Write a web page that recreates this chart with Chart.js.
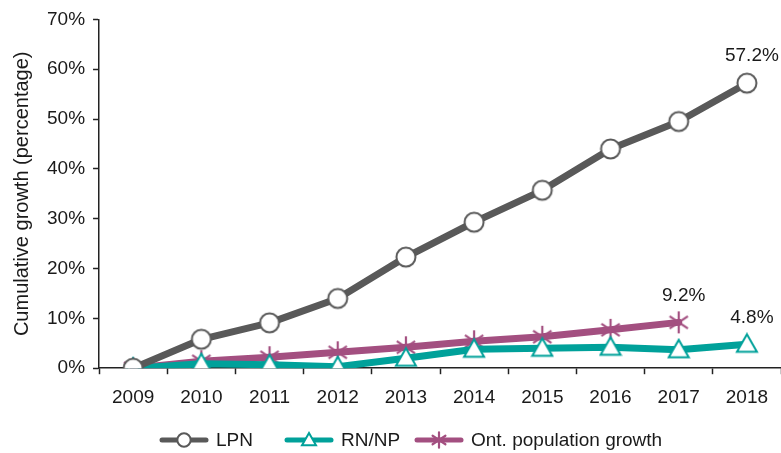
<!DOCTYPE html>
<html>
<head>
<meta charset="utf-8">
<script src="https://cdn.jsdelivr.net/npm/chart.js@4/dist/chart.umd.min.js"></script>
<style>
  html, body { margin: 0; padding: 0; background: #fff; overflow: hidden; }
  canvas { display: block; }
</style>
</head>
<body>
<canvas id="c" width="781" height="453" style="width:781px;height:453px"></canvas>
<script>
const categories = ['2009','2010','2011','2012','2013','2014','2015','2016','2017','2018'];
const lpn = [0, 5.8, 9.1, 14.0, 22.3, 29.3, 35.7, 44.0, 49.5, 57.2];
const rnnp = [0, 0.9, 0.7, 0.3, 2.0, 3.8, 4.0, 4.2, 3.7, 4.8];
const ontPop = [0, 1.4, 2.2, 3.2, 4.2, 5.4, 6.3, 7.7, 9.2, null];
const seriesNames = ['LPN', 'RN/NP', 'Ont. population growth'];
const yTicks = [0, 10, 20, 30, 40, 50, 60, 70];
const endLabels = [
  { dataset: 0, index: 9, text: '57.2%' },
  { dataset: 1, index: 9, text: '4.8%' },
  { dataset: 2, index: 8, text: '9.2%' }
];

const GRAY = '#595959', TEAL = '#00A19A', MAG = '#A34F80', INK = '#1a1a1a';
const FONT = "'Liberation Sans', Arial, sans-serif";
const FS = 19;

function drawMarker(x, kind, color, cx, cy, s) {
  x.save();
  x.lineWidth = 2; x.strokeStyle = color; x.fillStyle = '#fff';
  if (kind === 'circle') {
    x.beginPath(); x.arc(cx, cy, 9.5 * s, 0, Math.PI * 2); x.fill(); x.stroke();
  } else if (kind === 'triangle') {
    x.beginPath();
    x.moveTo(cx, cy - 10 * s); x.lineTo(cx + 10 * s, cy + 7.5 * s); x.lineTo(cx - 10 * s, cy + 7.5 * s);
    x.closePath(); x.fill(); x.stroke();
  } else if (kind === 'star') {
    x.lineWidth = 2.2;
    const r = 11 * s;
    x.beginPath();
    x.moveTo(cx, cy - r); x.lineTo(cx, cy + r);
    const a = r * Math.sin(Math.PI / 3.2), b = r * Math.cos(Math.PI / 3.2);
    x.moveTo(cx - a, cy - b); x.lineTo(cx + a, cy + b);
    x.moveTo(cx + a, cy - b); x.lineTo(cx - a, cy + b);
    x.stroke();
  }
  x.restore();
}

function markerCanvas(kind, color, size) {
  const c = document.createElement('canvas');
  c.width = size; c.height = size;
  drawMarker(c.getContext('2d'), kind, color, size / 2, size / 2, 1);
  return c;
}

const kinds = ['circle', 'triangle', 'star'];
const colors = [GRAY, TEAL, MAG];
const legendX = [160, 285, 415];

const endLabelPlugin = {
  id: 'endLabels',
  afterDatasetsDraw(chart) {
    const ctx = chart.ctx;
    ctx.save();
    ctx.font = FS + 'px ' + FONT;
    ctx.fillStyle = INK;
    ctx.textAlign = 'center';
    ctx.textBaseline = 'middle';
    endLabels.forEach(l => {
      const el = chart.getDatasetMeta(l.dataset).data[l.index];
      ctx.fillText(l.text, el.x + 5, el.y - 27);
    });
    ctx.restore();
  }
};

const legendPlugin = {
  id: 'customLegend',
  afterDraw(chart) {
    const ctx = chart.ctx;
    const y = 440;
    ctx.save();
    chart.data.datasets.forEach((d, i) => {
      const x0 = legendX[i];
      ctx.strokeStyle = colors[i]; ctx.lineWidth = 5; ctx.lineCap = 'round';
      ctx.beginPath(); ctx.moveTo(x0 + 2, y); ctx.lineTo(x0 + 46, y); ctx.stroke();
      drawMarker(ctx, kinds[i], colors[i], x0 + 24, y, 0.7);
      ctx.font = FS + 'px ' + FONT;
      ctx.fillStyle = INK;
      ctx.textAlign = 'left';
      ctx.textBaseline = 'middle';
      ctx.fillText(d.label, x0 + 56, y + 1);
    });
    ctx.restore();
  }
};

new Chart(document.getElementById('c'), {
  type: 'line',
  data: {
    labels: categories,
    datasets: [
      { label: seriesNames[0], data: lpn, borderColor: GRAY, borderWidth: 7, pointStyle: markerCanvas('circle', GRAY, 24), pointRadius: 10 },
      { label: seriesNames[1], data: rnnp, borderColor: TEAL, borderWidth: 7, pointStyle: markerCanvas('triangle', TEAL, 24), pointRadius: 10 },
      { label: seriesNames[2], data: ontPop, borderColor: MAG, borderWidth: 7, pointStyle: markerCanvas('star', MAG, 26), pointRadius: 10 }
    ]
  },
  options: {
    responsive: false,
    maintainAspectRatio: false,
    devicePixelRatio: 1,
    animation: false,
    events: [],
    layout: { autoPadding: false, padding: { top: 5.5, right: 0, bottom: 32, left: 10 } },
    elements: { line: { tension: 0, borderCapStyle: 'round', borderJoinStyle: 'round' } },
    scales: {
      x: {
        offset: true,
        grid: { offset: true, drawOnChartArea: false, drawTicks: true, tickLength: 6, color: '#222', tickWidth: 1.5 },
        border: { color: '#222', width: 1.5 },
        ticks: { color: INK, font: { family: FONT, size: FS }, padding: 12, maxRotation: 0, autoSkip: false }
      },
      y: {
        min: 0, max: 70,
        afterBuildTicks(axis) { axis.ticks = yTicks.map(v => ({ value: v })); },
        grid: { drawOnChartArea: false, drawTicks: true, tickLength: 6, color: '#222', tickWidth: 1.5 },
        border: { color: '#222', width: 1.5 },
        ticks: { color: INK, font: { family: FONT, size: FS }, padding: 8, callback: v => v + '%' },
        title: { display: true, text: 'Cumulative growth (percentage)', color: INK, font: { family: FONT, size: 20 }, padding: { top: 0, bottom: 5 } }
      }
    },
    plugins: {
      tooltip: { enabled: false },
      legend: { display: false }
    }
  },
  plugins: [endLabelPlugin, legendPlugin]
});
</script>
</body>
</html>
